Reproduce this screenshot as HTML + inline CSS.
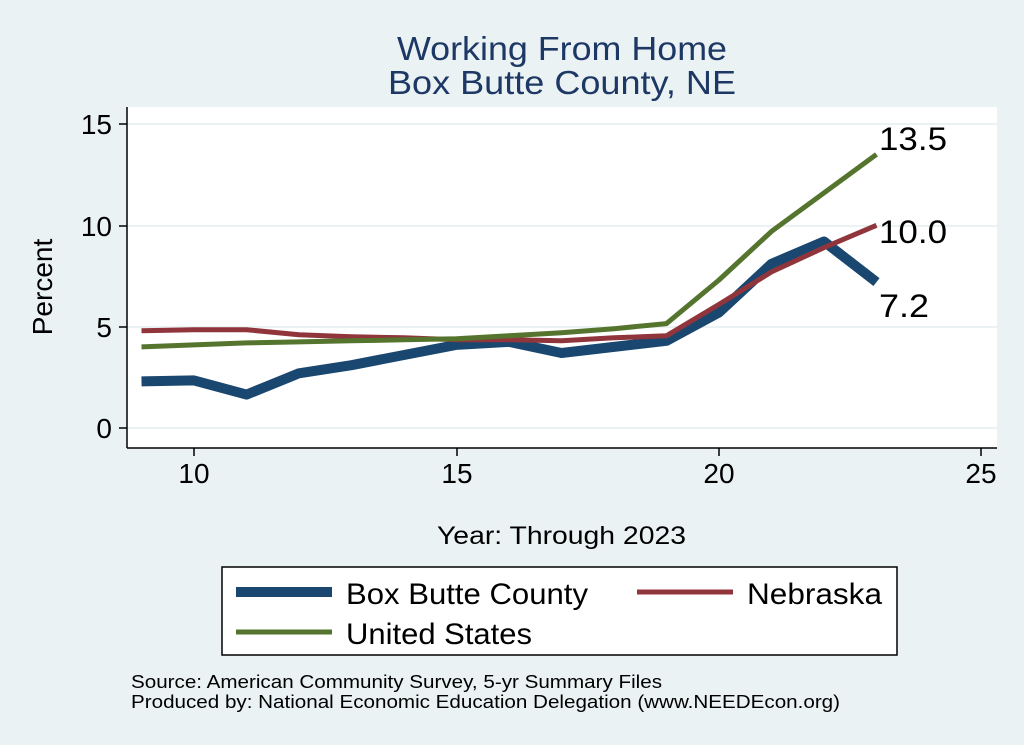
<!DOCTYPE html>
<html><head><style>
html,body{margin:0;padding:0;background:#eaf2f3;}
svg{display:block;font-family:"Liberation Sans",Arial,sans-serif;}
</style></head><body>
<svg width="1024" height="745" viewBox="0 0 1024 745">
<rect width="1024" height="745" fill="#eaf2f3"/>
<text x="397" y="60" font-size="33" fill="#1e3866" textLength="330" lengthAdjust="spacingAndGlyphs">Working From Home</text>
<text x="388" y="94" font-size="33" fill="#1e3866" textLength="348" lengthAdjust="spacingAndGlyphs">Box Butte County, NE</text>
<rect x="127" y="107" width="870" height="341" fill="#fff"/>
<g stroke="#eaf2f3" stroke-width="2">
<line x1="127" x2="997" y1="428" y2="428"/><line x1="127" x2="997" y1="327" y2="327"/>
<line x1="127" x2="997" y1="226" y2="226"/><line x1="127" x2="997" y1="124" y2="124"/>
</g>
<g stroke="#000" stroke-width="1.5">
<line x1="127" y1="107" x2="127" y2="448"/>
<line x1="127" y1="448" x2="997" y2="448"/>
<line x1="119" x2="127" y1="428" y2="428"/><line x1="119" x2="127" y1="327" y2="327"/>
<line x1="119" x2="127" y1="226" y2="226"/><line x1="119" x2="127" y1="124" y2="124"/>
<line x1="194" x2="194" y1="448" y2="456"/><line x1="457" x2="457" y1="448" y2="456"/>
<line x1="719" x2="719" y1="448" y2="456"/><line x1="981" x2="981" y1="448" y2="456"/>
</g>
<g font-size="28" fill="#000" text-anchor="end">
<text x="112" y="438">0</text><text x="112" y="337">5</text>
<text x="112" y="236">10</text><text x="112" y="134">15</text>
</g>
<g font-size="28" fill="#000" text-anchor="middle">
<text x="194" y="483">10</text><text x="457" y="483">15</text>
<text x="719" y="483">20</text><text x="981" y="483">25</text>
</g>
<text x="52" y="287" font-size="28" text-anchor="middle" transform="rotate(-90 52 287)">Percent</text>
<text x="437" y="544" font-size="25" textLength="249" lengthAdjust="spacingAndGlyphs">Year: Through 2023</text>
<polyline fill="none" stroke="#1a476f" stroke-width="10" stroke-linejoin="round" points="141.5,381.4 194,380.4 246.5,394.6 299,373.3 351.5,365.2 404,355 456.5,344.9 509,341.9 561.5,353 614,346.9 666.5,340.8 719,312.5 771.5,263.8 824,241.5 876.5,282.1"/>
<polyline fill="none" stroke="#90353b" stroke-width="5" stroke-linejoin="round" points="141.5,330.7 194,329.7 246.5,329.7 299,334.8 351.5,336.8 404,337.8 456.5,339.8 509,339.8 561.5,340.8 614,337.8 666.5,335.8 719,304.4 771.5,271.9 824,247.6 876.5,225.3"/>
<polyline fill="none" stroke="#55752f" stroke-width="5" stroke-linejoin="round" points="141.5,346.9 194,344.9 246.5,342.9 299,341.9 351.5,340.8 404,339.8 456.5,338.8 509,335.8 561.5,332.7 614,328.7 666.5,323.6 719,280 771.5,231.4 824,192.9 876.5,154.4"/>
<g font-size="32" fill="#000">
<text x="879" y="150" textLength="68" lengthAdjust="spacingAndGlyphs">13.5</text>
<text x="879" y="243" textLength="68" lengthAdjust="spacingAndGlyphs">10.0</text>
<text x="879" y="317" textLength="50" lengthAdjust="spacingAndGlyphs">7.2</text>
</g>
<rect x="222" y="567" width="675" height="88" fill="#fff" stroke="#000" stroke-width="1.5"/>
<line x1="236" x2="332" y1="592" y2="592" stroke="#1a476f" stroke-width="10"/>
<text x="346" y="604" font-size="30" textLength="242" lengthAdjust="spacingAndGlyphs">Box Butte County</text>
<line x1="637" x2="733" y1="592" y2="592" stroke="#90353b" stroke-width="5"/>
<text x="747" y="604" font-size="30" textLength="135" lengthAdjust="spacingAndGlyphs">Nebraska</text>
<line x1="236" x2="332" y1="632" y2="632" stroke="#55752f" stroke-width="5"/>
<text x="346" y="644" font-size="30" textLength="186" lengthAdjust="spacingAndGlyphs">United States</text>
<text x="131" y="688" font-size="18" textLength="531" lengthAdjust="spacingAndGlyphs">Source: American Community Survey, 5-yr Summary Files</text>
<text x="131" y="708" font-size="18" textLength="709" lengthAdjust="spacingAndGlyphs">Produced by: National Economic Education Delegation (www.NEEDEcon.org)</text>
</svg>
</body></html>
